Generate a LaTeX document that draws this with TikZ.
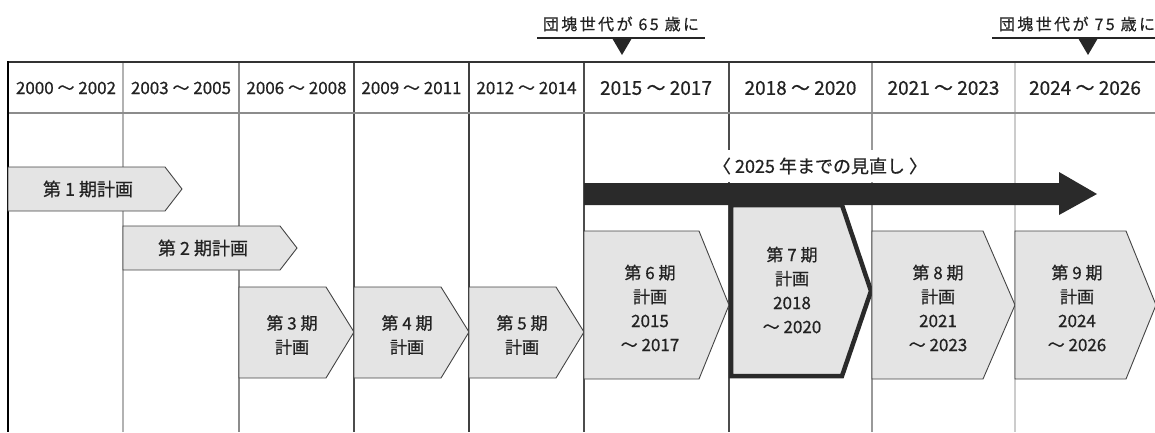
\documentclass[tikz,border=0pt]{standalone}
\usepackage{fontspec}
\setmainfont[FakeBold=0.6]{Noto Sans CJK JP}
\newfontfamily\jpsp[LetterSpace=15,FakeBold=0.6]{Noto Sans CJK JP}
\definecolor{boxfill}{HTML}{E4E4E4}
\definecolor{edge}{HTML}{444444}
\definecolor{ink}{HTML}{222222}
\definecolor{arrowc}{HTML}{2A2A2A}
\tikzset{
  plan/.style={fill=boxfill, draw=edge, line width=0.9pt, line join=miter},
  planthick/.style={fill=boxfill, draw=arrowc, line width=4.5pt, line join=miter},
  hdl/.style={text=ink, font=\fontsize{17}{20}\selectfont, inner sep=0pt},
  hdr/.style={text=ink, font=\fontsize{19}{22}\selectfont, inner sep=0pt},
  btxt/.style={text=ink, font=\fontsize{18}{22}\selectfont, inner sep=0pt},
  mtxt/.style={text=ink, align=center, font=\fontsize{17}{24}\selectfont, inner sep=0pt},
  toplab/.style={text=ink, font=\jpsp\fontsize{16}{18}\selectfont, inner sep=0pt},
}
\begin{document}
\begin{tikzpicture}[x=1pt,y=-1pt]
\useasboundingbox (0,0) rectangle (1155,432);
% vertical dividers
\draw[line width=1.2pt, color=black!30] (123,62) -- (123,432);
\draw[line width=1.3pt, color=black!45] (239,62) -- (239,432);
\draw[line width=1.5pt, color=black!70] (354,62) -- (354,432);
\draw[line width=1.5pt, color=black!75] (469,62) -- (469,432);
\draw[line width=1.5pt, color=black!70] (584,62) -- (584,432);
\draw[line width=1.5pt, color=black!70] (729,62) -- (729,432);
\draw[line width=1.2pt, color=black!40] (872,62) -- (872,432);
\draw[line width=1.5pt, color=black!20] (1015,62) -- (1015,432);
% header lines
\draw[line width=1.2pt, color=black!45] (8,113) -- (1155,113);
\draw[line width=2pt, color=black!80] (8,62) -- (1155,62);
\draw[line width=2.5pt, color=black] (8,61) -- (8,432);
% header texts
\node[hdl] (h1) at (66,88) {2000 ～ 2002};
\node[hdl] (h2) at (181,88) {2003 ～ 2005};
\node[hdl] (h3) at (296.5,88) {2006 ～ 2008};
\node[hdl] (h4) at (411.5,88) {2009 ～ 2011};
\node[hdl] (h5) at (526.5,88) {2012 ～ 2014};
\node[hdr] (h6) at (656,88) {2015 ～ 2017};
\node[hdr] (h7) at (800.5,88) {2018 ～ 2020};
\node[hdr] (h8) at (943.5,88) {2021 ～ 2023};
\node[hdr] (h9) at (1085,88) {2024 ～ 2026};
% top labels
\node[toplab] (t1) at (621,24) {団塊世代が 65 歳に};
\draw[line width=2.5pt, color=black!85] (537,38) -- (705,38);
\fill[black!85] (612,38) -- (632,38) -- (622,55) -- cycle;
\node[toplab] (t2) at (1077,24) {団塊世代が 75 歳に};
\draw[line width=2.5pt, color=black!85] (992,38) -- (1155,38);
\fill[black!85] (1078,38) -- (1098,38) -- (1088,55) -- cycle;
% plan shapes
\draw[plan] (8,167) -- (165,167) -- (182,189) -- (165,211) -- (8,211) -- cycle;
\node[btxt] (p1) at (88,189) {第 1 期計画};
\draw[plan] (123,226) -- (280,226) -- (297,248) -- (280,270) -- (123,270) -- cycle;
\node[btxt] (p2) at (203,248) {第 2 期計画};
\draw[plan] (239,287) -- (326,287) -- (354,332) -- (326,378) -- (239,378) -- cycle;
\node[mtxt] (p3) at (292,335) {第 3 期\\計画};
\draw[plan] (354,287) -- (441,287) -- (469,332) -- (441,378) -- (354,378) -- cycle;
\node[mtxt] (p4) at (407,335) {第 4 期\\計画};
\draw[plan] (469,287) -- (556,287) -- (584,332) -- (556,378) -- (469,378) -- cycle;
\node[mtxt] (p5) at (522,335) {第 5 期\\計画};
\draw[plan] (584,231) -- (699,231) -- (729,305) -- (699,379) -- (584,379) -- cycle;
\node[mtxt] (p6) at (650,308) {第 6 期\\計画\\2015\\～ 2017};
\draw[planthick] (731,205) -- (842,205) -- (871,291) -- (842,376) -- (731,376) -- cycle;
\node[mtxt] (p7) at (792,290) {第 7 期\\計画\\2018\\～ 2020};
\draw[plan] (872,231) -- (983,231) -- (1015,305) -- (983,379) -- (872,379) -- cycle;
\node[mtxt] (p8) at (938,308) {第 8 期\\計画\\2021\\～ 2023};
\draw[plan] (1015,231) -- (1126,231) -- (1156,305) -- (1126,379) -- (1015,379) -- cycle;
\node[mtxt] (p9) at (1077,308) {第 9 期\\計画\\2024\\～ 2026};
% review arrow
\fill[arrowc] (584,183) -- (1059,183) -- (1059,172) -- (1097,194) -- (1059,215) -- (1059,205) -- (584,205) -- cycle;
\node[fill=white, text=ink, font=\fontsize{18}{20}\selectfont, inner xsep=2pt, minimum height=32pt] (rv) at (820,166) {〈 2025 年までの見直し 〉};
\end{tikzpicture}
\end{document}
